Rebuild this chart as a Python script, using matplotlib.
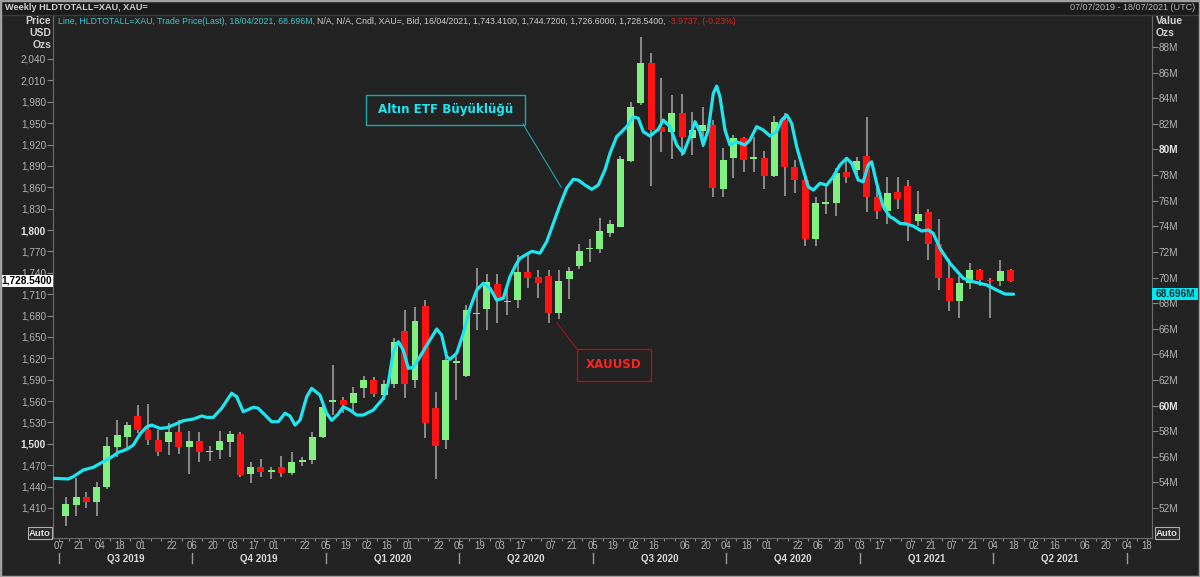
import numpy as np
import pandas as pd
import matplotlib
matplotlib.use("Agg")
import matplotlib.pyplot as plt
import matplotlib.dates as mdates
import matplotlib.transforms as mtransforms
from matplotlib.patches import Rectangle
from matplotlib.lines import Line2D

W, H = 1200, 577
START = pd.Timestamp("2019-07-07")

# ---------------- data ----------------
# Weekly XAU= candles (week ending Friday), USD / oz
candle_dates = pd.date_range("2019-07-12", "2021-04-16", freq="W-FRI")
xau_open = [1399, 1414, 1425, 1418, 1440, 1496, 1510, 1539, 1519, 1506,
            1502, 1516, 1496, 1504, 1488, 1491, 1503, 1514, 1458, 1467,
            1461, 1467, 1459, 1474, 1477, 1510, 1559, 1562, 1558, 1579,
            1590, 1569, 1584, 1658, 1590, 1693, 1550, 1506, 1614, 1595,
            1682, 1689, 1724, 1699, 1702, 1741, 1734, 1736, 1683, 1731,
            1749, 1773, 1774, 1796, 1804, 1897, 1978, 2034, 1945, 1937,
            1964, 1929, 1939, 1948, 1857, 1901, 1929, 1900, 1901, 1876,
            1955, 1888, 1870, 1787, 1837, 1838, 1882, 1884, 1904, 1847,
            1827, 1853, 1862, 1813, 1825, 1781, 1732, 1701, 1726, 1744,
            1730, 1728, 1743.41]
xau_high = [1426, 1452, 1433, 1447, 1509, 1534, 1530, 1554, 1556, 1520,
            1529, 1534, 1518, 1517, 1497, 1518, 1518, 1516, 1475, 1479,
            1468, 1483, 1488, 1481, 1516, 1556, 1611, 1566, 1580, 1595,
            1594, 1590, 1648, 1688, 1692, 1702, 1573, 1620, 1623, 1695,
            1747, 1739, 1739, 1721, 1765, 1765, 1744, 1744, 1744, 1748,
            1780, 1788, 1817, 1814, 1904, 1980, 2071, 2049, 2014, 1989,
            1991, 1966, 1972, 1954, 1915, 1933, 1931, 1931, 1911, 1960,
            1964, 1898, 1876, 1847, 1863, 1887, 1901, 1903, 1958, 1865,
            1875, 1874, 1870, 1855, 1829, 1815, 1760, 1735, 1754, 1746,
            1732, 1758, 1744.72]
xau_low = [1385, 1399, 1410, 1399, 1437, 1481, 1493, 1515, 1498, 1483,
           1484, 1486, 1457, 1474, 1476, 1479, 1481, 1454, 1445, 1454,
           1450, 1453, 1456, 1469, 1472, 1508, 1541, 1543, 1543, 1564,
           1566, 1562, 1578, 1565, 1579, 1508, 1451, 1493, 1562, 1594,
           1660, 1660, 1670, 1681, 1690, 1719, 1705, 1670, 1675, 1703,
           1745, 1755, 1768, 1790, 1804, 1895, 1975, 1862, 1910, 1900,
           1904, 1905, 1917, 1847, 1847, 1873, 1882, 1882, 1858, 1875,
           1848, 1852, 1777, 1777, 1823, 1819, 1866, 1873, 1825, 1815,
           1808, 1829, 1784, 1805, 1758, 1716, 1686, 1676, 1717, 1721,
           1676, 1721, 1726.60]
xau_close = [1415, 1425, 1418, 1440, 1497, 1513, 1526, 1519, 1505, 1488,
             1516, 1496, 1504, 1489, 1490, 1504, 1514, 1456, 1467, 1461,
             1464, 1459, 1475, 1477, 1509, 1551, 1562, 1555, 1571, 1590,
             1570, 1584, 1643, 1584, 1673, 1529, 1497, 1618, 1616, 1688,
             1684, 1727, 1702, 1701, 1741, 1733, 1725, 1684, 1729, 1743,
             1770, 1775, 1798, 1808, 1899, 1973, 2034, 1941, 1938, 1964,
             1931, 1941, 1948, 1859, 1898, 1929, 1898, 1902, 1876, 1951,
             1888, 1870, 1787, 1838, 1839, 1880, 1875, 1897, 1847, 1826,
             1852, 1844, 1810, 1823, 1781, 1732, 1700, 1726, 1744, 1730,
             1728, 1743, 1728.54]

# HLDTOTALL=XAU (gold ETF holdings), weeks since 07/07/2019 -> million oz
etf_week = [-0.54, 0.95, 1.44, 2.41, 3.39, 4.36, 4.85, 5.34, 5.82, 6.31,
            6.80, 7.28, 7.94, 8.59, 9.08, 9.88, 10.54, 11.18, 12.15, 13.13,
            13.94, 14.43, 15.07, 15.89, 16.86, 17.35, 17.99, 18.97, 19.45, 19.94,
            20.76, 21.40, 22.05, 22.54, 23.03, 23.52, 24.17, 24.65, 25.46, 26.11,
            26.60, 27.20, 27.73, 28.38, 29.04, 29.68, 30.65, 31.63, 32.11, 32.60,
            33.09, 33.57, 34.06, 34.55, 35.20, 36.17, 36.83, 37.31, 37.80, 38.12,
            38.77, 39.42, 40.07, 40.72, 41.36, 42.02, 42.67, 43.31, 43.96, 44.61,
            44.94, 45.55, 46.10, 46.88, 47.54, 48.18, 48.83, 49.48, 50.13, 50.61,
            51.27, 51.92, 52.56, 53.21, 53.70, 54.35, 55.00, 55.33, 55.97, 56.46,
            56.94, 57.60, 58.40, 58.89, 59.54, 60.20, 60.84, 61.49, 61.98, 62.46,
            62.78, 63.27, 63.76, 64.09, 64.41, 64.90, 65.38, 66.04, 66.84, 67.33,
            67.98, 68.63, 69.28, 69.93, 70.42, 70.91, 71.39, 71.88, 72.52, 73.01,
            73.50, 74.15, 74.80, 75.44, 76.09, 76.75, 77.24, 77.88, 78.36, 78.85,
            79.18, 79.67, 80.31, 80.96, 81.29, 81.94, 82.59, 83.23, 84.05, 84.69,
            85.18, 85.83, 86.81, 88.10, 89.08, 90.38, 91.36, 92.17, 93.00]
etf_mozs = [54.32, 54.27, 54.45, 54.97, 55.18, 55.62, 55.83, 56.07, 56.35, 56.48,
            56.66, 56.92, 57.78, 58.35, 58.48, 58.22, 58.27, 58.48, 58.82, 58.95,
            59.19, 59.08, 59.08, 59.79, 60.96, 60.69, 59.52, 59.87, 59.79, 59.40,
            58.74, 58.74, 59.40, 59.19, 58.48, 58.87, 60.69, 61.35, 60.82, 59.40,
            58.85, 59.30, 59.91, 59.65, 59.26, 59.26, 59.65, 60.57, 61.74, 64.21,
            64.99, 64.34, 62.91, 62.99, 63.82, 65.12, 65.98, 65.51, 63.82, 63.61,
            64.08, 65.64, 67.60, 69.02, 69.55, 69.16, 68.24, 68.38, 70.06, 71.10,
            71.50, 71.80, 72.05, 71.90, 72.80, 74.23, 75.66, 76.97, 77.67, 77.61,
            77.22, 76.89, 77.22, 78.40, 79.70, 81.00, 81.52, 81.78, 82.56, 82.43,
            81.39, 81.05, 81.57, 82.30, 81.78, 80.35, 79.70, 81.00, 82.17, 81.39,
            80.35, 81.52, 84.38, 84.95, 84.12, 81.52, 80.35, 80.60, 80.35, 80.74,
            81.78, 81.52, 81.05, 81.39, 82.30, 82.69, 82.04, 80.21, 78.40, 77.09,
            76.83, 77.36, 77.22, 77.87, 78.79, 79.31, 78.92, 77.61, 77.48, 78.79,
            79.04, 77.36, 75.53, 74.75, 74.62, 74.23, 74.18, 74.02, 73.63, 73.71,
            73.45, 72.28, 71.11, 69.94, 69.67, 69.42, 69.02, 68.71, 68.696]

price_ticks = list(range(1410, 2041, 30))
value_ticks = list(range(52, 89, 2))
date_ticks = ["2019-07-07", "2019-07-21", "2019-08-04", "2019-08-18", "2019-09-01",
              "2019-09-22", "2019-10-06", "2019-10-20", "2019-11-03", "2019-11-17",
              "2019-12-01", "2019-12-22", "2020-01-05", "2020-01-19", "2020-02-02",
              "2020-02-16", "2020-03-01", "2020-03-22", "2020-04-05", "2020-04-19",
              "2020-05-03", "2020-05-17", "2020-06-07", "2020-06-21", "2020-07-05",
              "2020-07-19", "2020-08-02", "2020-08-16", "2020-09-06", "2020-09-20",
              "2020-10-04", "2020-10-18", "2020-11-01", "2020-11-22", "2020-12-06",
              "2020-12-20", "2021-01-03", "2021-01-17", "2021-02-07", "2021-02-21",
              "2021-03-07", "2021-03-21", "2021-04-04", "2021-04-18", "2021-05-02",
              "2021-05-16", "2021-06-06", "2021-06-20", "2021-07-04", "2021-07-18"]
quarter_labels = ["Q3 2019", "Q4 2019", "Q1 2020", "Q2 2020", "Q3 2020",
                  "Q4 2020", "Q1 2021", "Q2 2021"]
quarter_starts = ["2019-07-07", "2019-10-06", "2020-01-05", "2020-04-05", "2020-07-05",
                  "2020-10-04", "2021-01-03", "2021-04-04", "2021-07-04"]

# ---------------- style ----------------
BG = "#232323"
GREEN = "#80f080"
RED = "#ff1212"
WICK = "#a8a8a8"
CYAN = "#1ee6f0"
TXT = "#b4b4b4"
plt.rcParams["font.family"] = ["Liberation Sans", "DejaVu Sans"]

fig = plt.figure(figsize=(W / 100, H / 100), dpi=100, facecolor=BG)


def fx(x):
    return x / W


def fy(y):
    return 1 - y / H


# title strip
fig.patches.append(Rectangle((0, fy(15)), 1, 15 / H, transform=fig.transFigure,
                             fc="#1b1b1b", ec="none", zorder=0))
fig.lines.append(Line2D([0, 1], [fy(15), fy(15)], transform=fig.transFigure,
                        color="#3c3c3c", lw=1))

ax = fig.add_axes([fx(53), fy(538), fx(1152) - fx(53), fy(14) - fy(538)])
ax.set_facecolor(BG)
ax2 = ax.twinx()

d0 = mdates.date2num(START)
ax.set_xlim(d0 - 0.536 * 7, d0 + 106.48 * 7)
ax.set_ylim(1367.9, 2103.1)
ax2.set_ylim(49.66, 90.58)

# candles
xc = mdates.date2num(candle_dates)
o = np.array(xau_open, float)
h = np.array(xau_high, float)
lo = np.array(xau_low, float)
c = np.array(xau_close, float)
up = c >= o
cols = np.where(up, GREEN, RED)
ax.vlines(xc, lo, h, color=WICK, lw=1.1, zorder=2)
body_b = np.minimum(o, c)
body_h = np.maximum(np.abs(c - o), 1.6)
body_b = np.where(np.abs(c - o) < 1.6, (o + c) / 2 - 0.8, body_b)
ax.bar(xc, body_h, bottom=body_b, width=0.68 * 7, color=cols, lw=0, zorder=3)

# ETF line
xe = d0 + np.array(etf_week) * 7
ax2.plot(xe, etf_mozs, color=CYAN, lw=2.3, solid_capstyle="round", zorder=5)

# axes styling
for a in (ax, ax2):
    a.spines["top"].set_visible(False)
    for s in ("left", "right", "bottom"):
        a.spines[s].set_color("#6a6a6a")
        a.spines[s].set_linewidth(0.8)

ax.set_yticks(price_ticks)
ax.set_yticklabels([f"{v:,}" for v in price_ticks])
ax.tick_params(axis="y", direction="out", length=4, width=0.8, color="#8a8a8a",
               labelcolor=TXT, labelsize=7.2, pad=1)
for lab, v in zip(ax.get_yticklabels(), price_ticks):
    if v in (1500, 1800):
        lab.set_fontweight("bold")
        lab.set_color("#e6e6e6")

ax2.set_yticks(value_ticks)
ax2.set_yticklabels([f"{v}M" for v in value_ticks])
ax2.tick_params(axis="y", direction="out", length=4, width=0.8, color="#8a8a8a",
                labelcolor=TXT, labelsize=7.2, pad=1)
for lab, v in zip(ax2.get_yticklabels(), value_ticks):
    if v in (60, 80):
        lab.set_fontweight("bold")
        lab.set_color("#e6e6e6")

xt = mdates.date2num(pd.to_datetime(date_ticks))
ax.set_xticks(xt)
ax.set_xticklabels([pd.Timestamp(d).strftime("%d") for d in date_ticks])
weekly = d0 + np.arange(0, 107) * 7
ax.set_xticks(weekly, minor=True)
ax.tick_params(axis="x", which="both", direction="out", length=2, width=0.8,
               color="#8a8a8a", labelcolor=TXT, labelsize=6.9, pad=0.5)

# quarter dividers and labels
blend = mtransforms.blended_transform_factory(ax.transData, fig.transFigure)
qs = mdates.date2num(pd.to_datetime(quarter_starts))
for q in qs:
    fig.lines.append(Line2D([q, q], [fy(553), fy(563)], transform=blend,
                            color="#9a9a9a", lw=1))
for q, lab in zip(qs[:-1], quarter_labels):
    fig.text(q + 6.5 * 7, fy(558.5), lab, transform=blend, ha="center", va="center",
             fontsize=7.0, fontweight="bold", color="#d8d8d8")

# ---------------- texts ----------------
renderer = fig.canvas.get_renderer()


def width_px(s, **kw):
    t = fig.text(0, 0, s + "|", **kw)
    t2 = fig.text(0, 0, "|", **kw)
    w = t.get_window_extent(renderer).width - t2.get_window_extent(renderer).width
    t.remove()
    t2.remove()
    return w


def runs(x0, y, parts, x1, **kw):
    total = sum(width_px(s, fontsize=10, **kw) for s, _ in parts)
    size = 10 * (x1 - x0) / total
    x = x0
    for s, col in parts:
        fig.text(fx(x), fy(y), s, color=col, fontsize=size, va="center", ha="left", **kw)
        x += width_px(s, fontsize=size, **kw)


runs(5, 8, [("Weekly HLDTOTALL=XAU, XAU=", "#d0d0d0")], 148, fontweight="bold")
runs(1070, 8, [("07/07/2019 - 18/07/2021 (UTC)", "#b8b8b8")], 1196)
runs(58, 21, [("Line, HLDTOTALL=XAU, Trade Price(Last), 18/04/2021, 68.696M, ", "#3cc8cc"),
              ("N/A, N/A, Cndl, XAU=, Bid, 16/04/2021, 1,743.4100, 1,744.7200, "
               "1,726.6000, 1,728.5400, ", "#cfcfcf"),
              ("-3.9737, (-0.23%)", "#e02020")], 740)

for s, y in (("Price", 21), ("USD", 33), ("Ozs", 45)):
    fig.text(fx(51), fy(y), s, ha="right", va="center", fontsize=7.5,
             fontweight="bold", color="#d0d0d0")
for s, y in (("Value", 21), ("Ozs", 33)):
    fig.text(fx(1156), fy(y), s, ha="left", va="center", fontsize=7.5,
             fontweight="bold", color="#d0d0d0")

# Auto buttons
for xa in (40, 1167):
    fig.text(fx(xa), fy(533), "Auto", ha="center", va="center", fontsize=6.8,
             fontweight="bold", color="#e0e0e0",
             bbox=dict(boxstyle="square,pad=0.12", fc="#2b2b2b", ec="#b0b0b0", lw=0.8))

# last value markers
last_px = ax.transData.transform((0, xau_close[-1]))[1]
fig.patches.append(Rectangle((fx(1), (last_px - 6) / H), fx(52), 12 / H,
                             transform=fig.transFigure, fc="white", ec="none", zorder=5))
fig.text(fx(27), last_px / H, f"{xau_close[-1]:,.4f}", ha="center", va="center",
         fontsize=7.3, fontweight="bold", color="black", zorder=6)
last_e = ax2.transData.transform((0, etf_mozs[-1]))[1]
fig.patches.append(Rectangle((fx(1152), (last_e - 6) / H), fx(46), 12 / H,
                             transform=fig.transFigure, fc="#00e8f2", ec="none", zorder=5))
fig.text(fx(1175), last_e / H, f"{etf_mozs[-1]:.3f}M", ha="center", va="center",
         fontsize=7.3, fontweight="bold", color="#0b2a2e", zorder=6)

# annotation boxes
fig.lines.append(Line2D([fx(523), fx(561)], [fy(124), fy(187)], transform=fig.transFigure,
                        color="#1aa8b0", lw=0.8))
fig.patches.append(Rectangle((fx(366), fy(125)), fx(525) - fx(366), fy(95) - fy(125),
                             transform=fig.transFigure, fc=BG, ec="#1aa8b0", lw=1))
fig.text(fx(445.5), fy(110), "Altın ETF Büyüklüğü", ha="center", va="center",
         fontsize=8.6, fontweight="bold", color="#1ee6f0", family="DejaVu Sans")

fig.lines.append(Line2D([fx(557), fx(577)], [fy(323), fy(349)], transform=fig.transFigure,
                        color="#a01818", lw=0.8))
fig.patches.append(Rectangle((fx(577), fy(381)), fx(651) - fx(577), fy(349) - fy(381),
                             transform=fig.transFigure, fc=BG, ec="#a01818", lw=1))
fig.text(fx(614), fy(365), "XAUUSD", ha="center", va="center",
         fontsize=8.6, fontweight="bold", color="#ff2020", family="DejaVu Sans")

# outer border
fig.patches.append(Rectangle((0, 0), 1, 1, transform=fig.transFigure, fill=False,
                             ec="#a0a0a0", lw=2.5, zorder=10))

fig.savefig("out.png", dpi=100, facecolor=BG)
